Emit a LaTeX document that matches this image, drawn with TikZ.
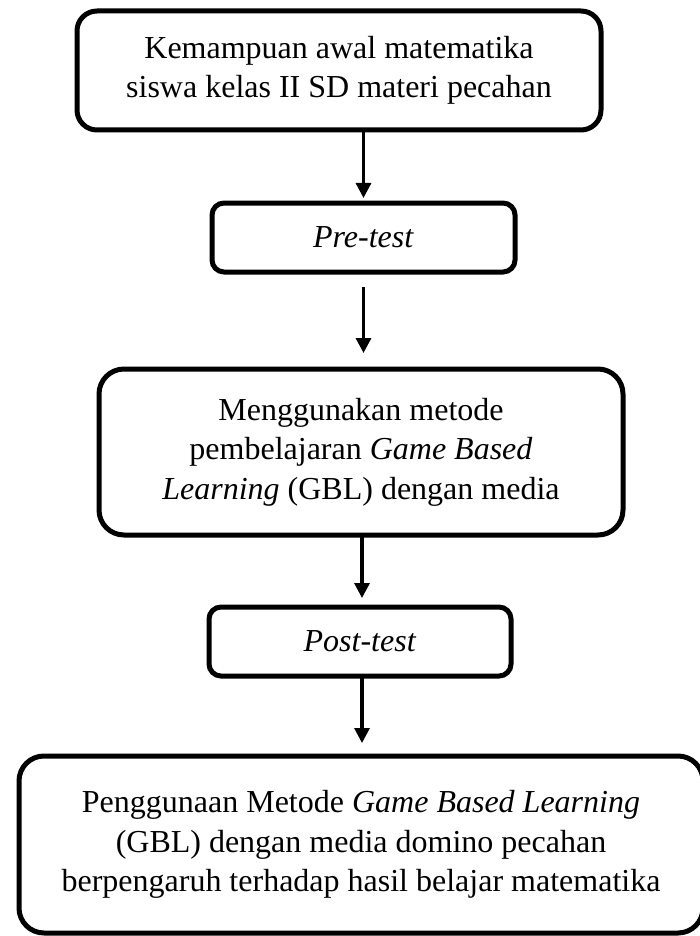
\documentclass[tikz,border=0pt]{standalone}
\usepackage{fontspec}
\setmainfont{Liberation Serif}
\usetikzlibrary{arrows.meta}
\tikzset{
  flowbox/.style={draw=black, line width=5pt, fill=white, outer sep=0pt, inner sep=0pt,
    align=center, font=\fontsize{32}{39.5}\selectfont},
  arr/.style={draw=black, line width=3.2pt, -{Triangle[length=15pt,width=15pt]}}
}
\begin{document}
\begin{tikzpicture}[x=1pt,y=-1pt]
\useasboundingbox[fill=white] (0,0) rectangle (700,936);
\node[flowbox, rounded corners=20pt, minimum width=524pt, minimum height=119pt] (b1) at (339,70.5)
  {Kemampuan awal matematika\\siswa kelas II SD materi pecahan};
\node[flowbox, rounded corners=12pt, minimum width=303pt, minimum height=69pt] (b2) at (363.5,237.5)
  {\textit{Pre-test}};
\node[flowbox, rounded corners=25pt, minimum width=524pt, minimum height=166pt] (b3) at (361,452)
  {Menggunakan metode\\pembelajaran \textit{Game Based}\\\textit{Learning} (GBL) dengan media};
\node[flowbox, rounded corners=12pt, minimum width=302pt, minimum height=69pt] (b4) at (360,641.5)
  {\textit{Post-test}};
\node[flowbox, rounded corners=25pt, minimum width=684pt, minimum height=177pt] (b5) at (361,844.5)
  {Penggunaan Metode \textit{Game Based Learning}\\(GBL) dengan media domino pecahan\\berpengaruh terhadap hasil belajar matematika};
\coordinate (a1s) at (b1.south -| b2.north);
\coordinate (a1e) at ([yshift=5pt]b2.north);
\coordinate (a2s) at ([yshift=-15pt]b2.south);
\coordinate (a2e) at ([yshift=16pt]b3.north -| b2.south);
\coordinate (a3s) at ([xshift=1pt]b3.south);
\coordinate (a3e) at ([yshift=9pt]b4.north -| a3s);
\coordinate (a4s) at (b4.south -| a3s);
\coordinate (a4e) at ([yshift=13pt]b5.north -| a3s);
\draw[arr] (a1s) -- (a1e);
\draw[arr] (a2s) -- (a2e);
\draw[arr] (a3s) -- (a3e);
\draw[arr] (a4s) -- (a4e);
\end{tikzpicture}
\end{document}
